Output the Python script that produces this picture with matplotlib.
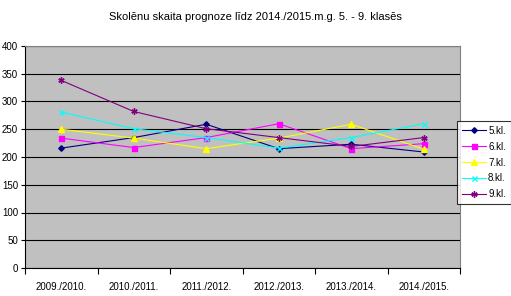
import numpy as np
import matplotlib.pyplot as plt

plt.rcParams['font.family'] = ['Liberation Sans', 'DejaVu Sans']

years = ["2009./2010.", "2010./2011.", "2011./2012.", "2012./2013.", "2013./2014.", "2014./2015."]
kl5 = [216, 235, 259, 215, 223, 209]
kl6 = [234, 217, 235, 260, 215, 224]
kl7 = [250, 234, 215, 234, 259, 214]
kl8 = [281, 251, 235, 216, 235, 260]
kl9 = [338, 282, 251, 235, 219, 235]

series = [
    ("5.kl.", kl5, "#000080", "D", 2.8),
    ("6.kl.", kl6, "#FF00FF", "s", 3.6),
    ("7.kl.", kl7, "#FFFF00", "^", 4),
    ("8.kl.", kl8, "#00FFFF", "x", 3.6),
    ("9.kl.", kl9, "#800080", (6, 2, 0), 4.5),
]

fig = plt.figure(figsize=(5.11, 2.96), dpi=100)
ax = fig.add_axes([25 / 511, 1 - 268 / 296, 435 / 511, 222 / 296])
ax.set_facecolor("#C0C0C0")

x = np.arange(len(years))
for label, vals, color, marker, ms in series:
    ax.plot(x, vals, color=color, lw=0.8, marker=marker, ms=ms,
            mew=1, label=label)

ax.set_xlim(-0.5, len(years) - 0.5)
ax.set_ylim(0, 400)
ax.set_yticks(np.arange(0, 401, 50))
ax.set_xticks(x)
ax.set_xticklabels(years)
ax.set_xticks(np.arange(-0.5, len(years), 1), minor=True)
ax.tick_params(axis="x", which="major", length=0, labelsize=7, pad=10)
ax.tick_params(axis="x", which="minor", length=4, direction="out", width=0.8)
ax.tick_params(axis="y", length=3, direction="out", labelsize=7, pad=2, width=0.8)
ax.grid(axis="y", color="black", lw=0.8)
ax.set_axisbelow(True)
for s in ["top", "right"]:
    ax.spines[s].set_color("#808080")
for s in ["left", "bottom"]:
    ax.spines[s].set_color("black")

fig.text(0.5, 1 - 17 / 296, "Skolēnu skaita prognoze līdz 2014./2015.m.g. 5. - 9. klasēs",
         ha="center", va="center", fontsize=8)

leg = fig.legend(loc="upper left", bbox_to_anchor=(457 / 511, 1 - 121 / 296),
                 fontsize=7, frameon=True, fancybox=False, borderpad=0.5,
                 handlelength=2.5, handletextpad=0.2, labelspacing=0.6,
                 borderaxespad=0)
leg.get_frame().set_edgecolor("black")
leg.get_frame().set_linewidth(0.8)

fig.savefig("out.png", dpi=100)
